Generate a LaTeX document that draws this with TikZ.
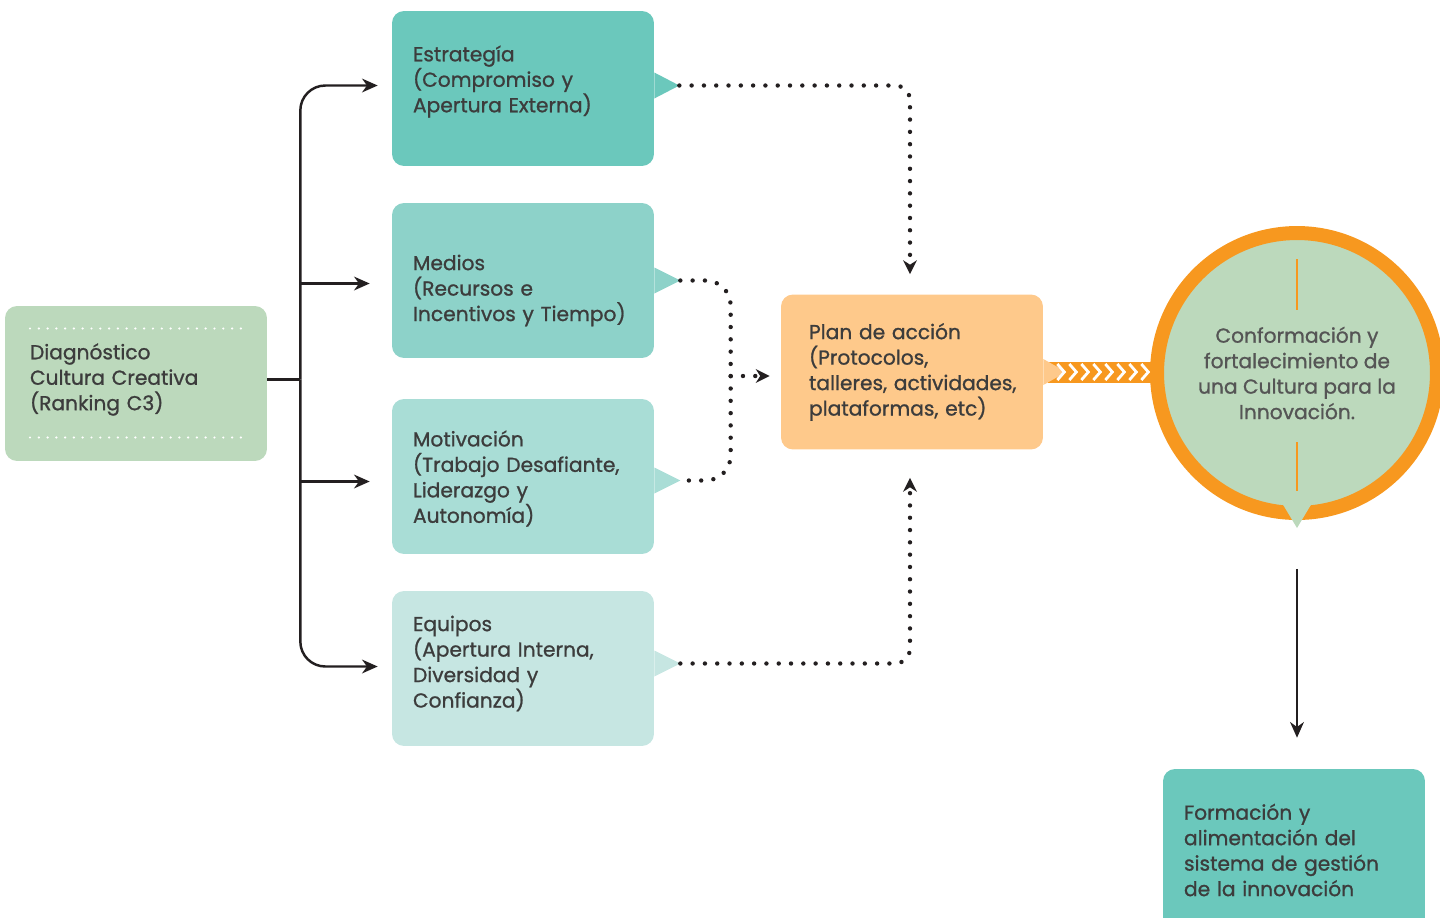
\documentclass[tikz,border=0pt]{standalone}
\usepackage{fontspec}
\setmainfont{Poppins}[FakeBold=1]
\usetikzlibrary{arrows.meta,positioning}
\definecolor{diaggreen}{RGB}{188,217,188}
\definecolor{tealdark}{RGB}{107,200,188}
\definecolor{tealmid}{RGB}{141,210,201}
\definecolor{teallight}{RGB}{169,221,214}
\definecolor{tealpale}{RGB}{198,230,226}
\definecolor{planorange}{RGB}{254,201,139}
\definecolor{ringorange}{RGB}{247,152,31}
\definecolor{textgray}{RGB}{60,60,60}
\definecolor{circgray}{RGB}{85,85,85}
\definecolor{linegray}{RGB}{35,31,32}

\begin{document}
\begin{tikzpicture}[x=0.02cm,y=-0.02cm,
  box/.style={rounded corners=0.24cm,text width=4.4cm,inner xsep=0.42cm,inner ysep=0pt,
    minimum height=3.1cm,align=left,text=textgray,font=\fontsize{11.5}{14.5}\selectfont},
  textup/.style={execute at end node={\endgraf\vspace*{#1}}},
  conn/.style={draw=linegray,line width=1.4pt},
  tip/.style={-{Stealth[length=9pt,width=8pt,line width=0pt]}},
  dotline/.style={draw=linegray,line width=2.5pt,line cap=round,dash pattern=on 0pt off 7pt},
  dtip/.style={-{Stealth[length=8pt,width=8pt,line width=0pt]}}]
\useasboundingbox (0,0) rectangle (1440,917);
% Diagnosis box on the left
\node[box,fill=diaggreen,text width=4.24cm,inner xsep=0.5cm,textup=0.16cm] (diag) at (136,383.5)
  {Diagnóstico\\Cultura Creativa\\(Ranking C3)};
\draw[white,line width=1.4pt,line cap=round,dash pattern=on 0pt off 5pt]
  ([shift={(-106,-55)}]diag.center) -- ([shift={(109,-55)}]diag.center);
\draw[white,line width=1.4pt,line cap=round,dash pattern=on 0pt off 5pt]
  ([shift={(-106,54)}]diag.center) -- ([shift={(109,54)}]diag.center);
% The four dimensions
\node[box,fill=tealdark,textup=0.28cm] (est) at (523,88.5) {Estrategía\\(Compromiso y\\Apertura Externa)};
\node[box,fill=tealmid,textup=-0.4cm] (med) at (523,280.5) {Medios\\(Recursos e\\Incentivos y Tiempo)};
\node[box,fill=teallight,textup=-0.08cm] (mot) at (523,476.5) {Motivación\\(Trabajo Desafiante,\\Liderazgo y\\Autonomía)};
\node[box,fill=tealpale,textup=0.2cm] (eq) at (523,668.5) {Equipos\\(Apertura Interna,\\Diversidad y\\Confianza)};
% Pointers on the right side of the boxes
\coordinate (estTip) at ([shift={(25,-3)}]est.east);
\coordinate (medTip) at ([shift={(26,0)}]med.east);
\coordinate (motTip) at ([shift={(26,4)}]mot.east);
\coordinate (eqTip) at ([shift={(26,-5)}]eq.east);
\fill[tealdark] ([shift={(0,-16)}]est.east) -- (estTip) -- ([shift={(0,10)}]est.east) -- cycle;
\fill[tealmid] ([shift={(0,-13)}]med.east) -- (medTip) -- ([shift={(0,13)}]med.east) -- cycle;
\fill[teallight] ([shift={(0,-9)}]mot.east) -- (motTip) -- ([shift={(0,17)}]mot.east) -- cycle;
\fill[tealpale] ([shift={(0,-18)}]eq.east) -- (eqTip) -- ([shift={(0,8)}]eq.east) -- cycle;
% Branching lines
\coordinate (trunk) at ([shift={(33,-4)}]diag.east);
\draw[conn] (diag.east |- trunk) -- (trunk);
\draw[conn,tip,rounded corners=0.5cm,shorten >=0.28cm] (trunk) |- ([shift={(0,-3)}]est.west);
\draw[conn,tip,rounded corners=0.5cm,shorten >=0.28cm] (trunk) |- ([shift={(0,-2)}]eq.west);
\draw[conn,tip,shorten >=0.44cm] ([shift={(0,3)}]trunk |- med.west) -- ([shift={(0,3)}]med.west);
\draw[conn,tip,shorten >=0.44cm] ([shift={(0,5)}]trunk |- mot.west) -- ([shift={(0,5)}]mot.west);
% Action plan
\node[box,fill=planorange,text width=4.12cm,inner xsep=0.56cm] (plan) at (912,372)
  {Plan de acción\\(Protocolos,\\\mbox{talleres, actividades,}\\plataformas, etc)};
% Dotted connectors into the plan
\coordinate (join) at ([shift={(-50,4)}]plan.west);
\draw[dotline,dtip,rounded corners=0.3cm,shorten >=0.4cm] (estTip) -| ([shift={(-2,0)}]plan.north);
\draw[dotline,dtip,rounded corners=0.3cm,shorten >=0.56cm] (eqTip) -| ([shift={(-2,0)}]plan.south);
\draw[dotline,rounded corners=0.5cm] (medTip) -| (join) |- (motTip);
\draw[dotline,dtip,shorten >=0.22cm] (join) -- (join -| plan.west);
% Culture circle
\node[circle,draw=ringorange,line width=0.28cm,fill=diaggreen,minimum size=5.6cm,inner sep=0pt,
  align=center,text=circgray,font=\fontsize{11.5}{14.5}\selectfont] (cul) at (1297,373)
  {Conformación y\\fortalecimiento de\\una Cultura para la\\Innovación.};
\draw[ringorange,line width=1.4pt] ([shift={(0,-114)}]cul.center) -- ([shift={(0,-63)}]cul.center);
\draw[ringorange,line width=1.4pt] ([shift={(0,69)}]cul.center) -- ([shift={(0,118)}]cul.center);
\fill[diaggreen] ([shift={(-15,130)}]cul.center) -- ([shift={(0,155)}]cul.center)
  -- ([shift={(15,130)}]cul.center) -- cycle;
% Chevron band from plan to circle
\fill[ringorange] ([shift={(5,-10)}]plan.east) rectangle ([shift={(10,10)}]cul.west);
\fill[planorange] ([shift={(0,-13)}]plan.east) -- ([shift={(23,0)}]plan.east)
  -- ([shift={(0,13)}]plan.east) -- cycle;
\foreach \i in {0,...,7}
  \draw[white,line width=1.6pt] ([shift={(14+12*\i,-8)}]plan.east) -- ++(7,8) -- ++(-7,8);
% Training box at the bottom
\node[box,fill=tealdark,minimum height=3.24cm] (form) at (1294,850)
  {Formación y\\alimentación del\\sistema de gestión\\de la innovación};
\draw[conn,tip,shorten <=0.98cm,shorten >=0.62cm] (cul.south) -- (cul.south |- form.north);
\end{tikzpicture}
\end{document}
